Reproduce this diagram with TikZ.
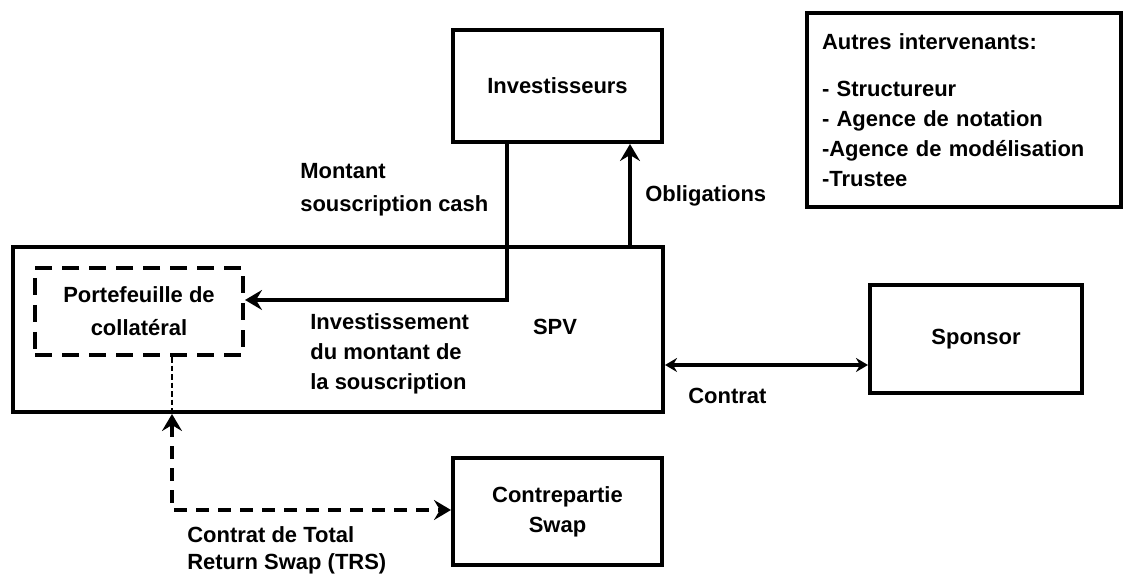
\documentclass[tikz,border=0pt]{standalone}
\usepackage{fontspec}
\setmainfont{Liberation Sans}
\usetikzlibrary{arrows.meta}

\begin{document}
\begin{tikzpicture}[
    font=\bfseries\fontsize{12.5}{17}\selectfont,
    >={Stealth[length=3.4mm,width=4mm,inset=1.2mm]},
    bloc/.style={draw, line width=2.3pt, align=center},
    pointille/.style={draw, line width=2.3pt, dash pattern=on 3.4mm off 2mm, align=center},
    fleche/.style={line width=2.3pt, ->},
    petit/.style={>={Stealth[length=2.4mm,width=2.8mm,inset=0.8mm]}},
    etiq/.style={anchor=west, align=left, inner sep=0pt}
  ]
    \useasboundingbox (0,0) rectangle (22.48,11.5);

    % boites
    \node[bloc, minimum width=4.18cm, minimum height=2.24cm] (inv) at (11.15,9.78) {Investisseurs};
    \node[bloc, minimum width=6.28cm, minimum height=3.88cm, inner xsep=0.3cm,
          text width=5.68cm, align=left] (autres) at (19.28,9.3)
      {Autres intervenants:\\[0.34cm]
       - Structureur\\
       - Agence de notation\\
       -Agence de modélisation\\
       -Trustee};
    \node[bloc, minimum width=13cm, minimum height=3.3cm] (spv) at (6.76,4.91) {};
    \node[pointille, minimum width=4.16cm, minimum height=1.74cm] (port) at (2.78,5.27) {Portefeuille de\\[1.7pt] collatéral};
    \node[bloc, minimum width=4.24cm, minimum height=2.16cm] (sponsor) at (19.52,4.72) {Sponsor};
    \node[bloc, minimum width=4.18cm, minimum height=2.14cm] (swap) at (11.15,1.27) {Contrepartie\\Swap};

    % textes
    \node[inner sep=0pt] (spvlabel) at (11.1,4.96) {SPV};
    \node[etiq] (montant) at (6.0,7.7) {Montant\\[1.7pt] souscription cash};
    \node[etiq] (oblig) at (12.9,7.58) {Obligations};
    \node[etiq] (invest) at (6.2,4.42) {Investissement\\du montant de\\la souscription};
    \node[etiq] (contrat) at (13.76,3.58) {Contrat};
    \node[etiq] (trslabel) at (3.74,0.49) {Contrat de Total\\[-1.7pt] Return Swap (TRS)};

    % fleches
    \draw[fleche] (inv.south -| 10.14,0) |- (port.east |- 0,5.5);
    \draw[fleche] (spv.north -| 12.6,0) -- (inv.south -| 12.6,0);
    \draw[fleche, petit, <->] (spv.east |- 0,4.2) -- (sponsor.west |- 0,4.2);
    \draw[line width=1.3pt, dash pattern=on 1.1mm off 0.6mm] (port.south -| 3.44,0) -- (spv.south -| 3.44,0);
    \draw[fleche, <->, dash pattern=on 2.6mm off 1.8mm] (spv.south -| 3.44,0) |- (swap.west |- 0,1.3);
  \end{tikzpicture}
\end{document}
